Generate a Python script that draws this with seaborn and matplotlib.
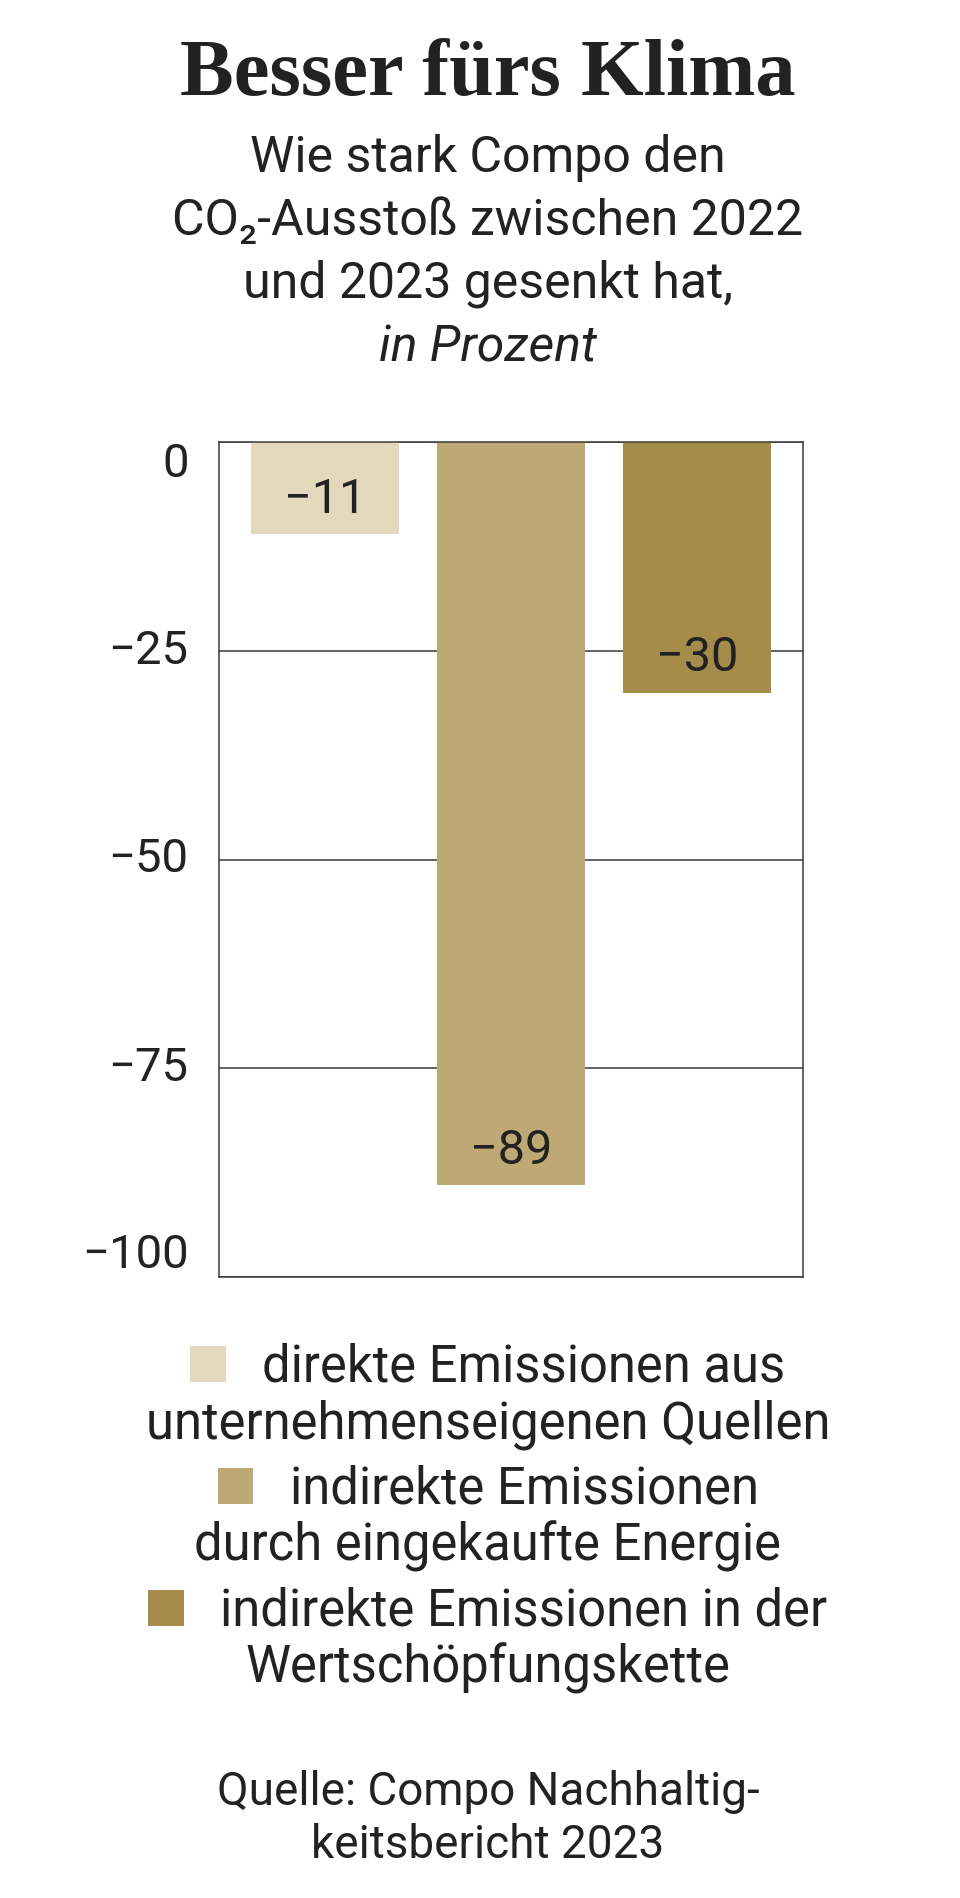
import matplotlib
matplotlib.use("Agg")
import matplotlib.pyplot as plt
from matplotlib.patches import Rectangle
import seaborn as sns
import pandas as pd

# Data
legend_line1 = ["direkte Emissionen aus", "indirekte Emissionen", "indirekte Emissionen in der"]
legend_line2 = ["unternehmenseigenen Quellen", "durch eingekaufte Energie", "Wertschöpfungskette"]
categories = [a + " " + b for a, b in zip(legend_line1, legend_line2)]
values = [-11, -89, -30]
colors = ["#e3d8bc", "#bea974", "#a58c4b"]
yticks = [0, -25, -50, -75, -100]

TITLE = "Besser fürs Klima"
SUBTITLE = ["Wie stark Compo den", "CO₂-Ausstoß zwischen 2022", "und 2023 gesenkt hat,", "in Prozent"]
SOURCE = ["Quelle: Compo Nachhaltig-", "keitsbericht 2023"]

W, H = 960, 1898
TXT = "#222222"
LINE = "#3a3a3a"
CX = 488  # horizontal centre of the text block (px)


def fy(px):
    return 1 - px / H


def fx(px):
    return px / W


def minus(v):
    return str(v).replace("-", "\u2212")


sns.set_theme(style="white")
plt.rcParams["font.family"] = ["Roboto", "DejaVu Sans"]

df = pd.DataFrame({"cat": categories, "val": values})

fig = plt.figure(figsize=(W / 100, H / 100), dpi=100)
ax = fig.add_axes([fx(219), fy(1277), fx(803) - fx(219), fy(442) - fy(1277)])

sns.barplot(data=df, x="cat", y="val", hue="cat", palette=colors, width=0.8,
            saturation=1, legend=False, ax=ax, linewidth=0, zorder=2)

ax.set_xlim(-0.57, 2.57)
ax.set_ylim(-100, 0)
ax.set_xticks([])
ax.set_xlabel("")
ax.set_ylabel("")
ax.set_yticks(yticks)
ax.set_yticklabels([minus(v) for v in yticks])
ax.tick_params(axis="y", length=0, pad=22, labelsize=34, labelcolor=TXT)
for lab, v in zip(ax.get_yticklabels(), yticks):
    if v == 0:
        lab.set_va("top")
    elif v == -100:
        lab.set_va("bottom")
    else:
        lab.set_va("center")

ax.yaxis.grid(True, color=LINE, lw=1.1)
ax.set_axisbelow(True)
for s in ax.spines.values():
    s.set_visible(True)
    s.set_color(LINE)
    s.set_linewidth(1.1)

# value labels inside the bar ends
for i, v in enumerate(values):
    ax.annotate(minus(v), (i, v), xytext=(0, 24.5), textcoords="offset points",
                ha="center", va="center", fontsize=35, color=TXT, zorder=3)

# title block
fig.text(fx(CX), fy(95), TITLE, ha="center", va="baseline", fontsize=58,
         fontweight="bold", family=["Liberation Serif", "DejaVu Serif"], color=TXT)
for k, line in enumerate(SUBTITLE):
    fig.text(fx(CX), fy(172 + 63 * k), line, ha="center", va="baseline",
             fontsize=36, color=TXT, style="italic" if k == len(SUBTITLE) - 1 else "normal")

# legend, centred, square before the first line
renderer = fig.canvas.get_renderer()
sq, gap = 36, 36
for i, (l1, l2) in enumerate(zip(legend_line1, legend_line2)):
    base = 1382 + 122 * i
    t = fig.text(0, fy(base), l1, ha="left", va="baseline", fontsize=36.5, color=TXT)
    w = t.get_window_extent(renderer).width
    left = CX - (sq + gap + w) / 2
    t.set_x(fx(left + sq + gap))
    fig.patches.append(Rectangle((fx(left), fy(base)), sq / W, sq / H,
                                 transform=fig.transFigure, color=colors[i], lw=0))
    fig.text(fx(CX), fy(base + 57), l2, ha="center", va="baseline", fontsize=36.5, color=TXT)

for k, line in enumerate(SOURCE):
    fig.text(fx(CX), fy(1805 + 53 * k), line, ha="center", va="baseline",
             fontsize=33, color=TXT)

fig.savefig("out.png", dpi=100)
